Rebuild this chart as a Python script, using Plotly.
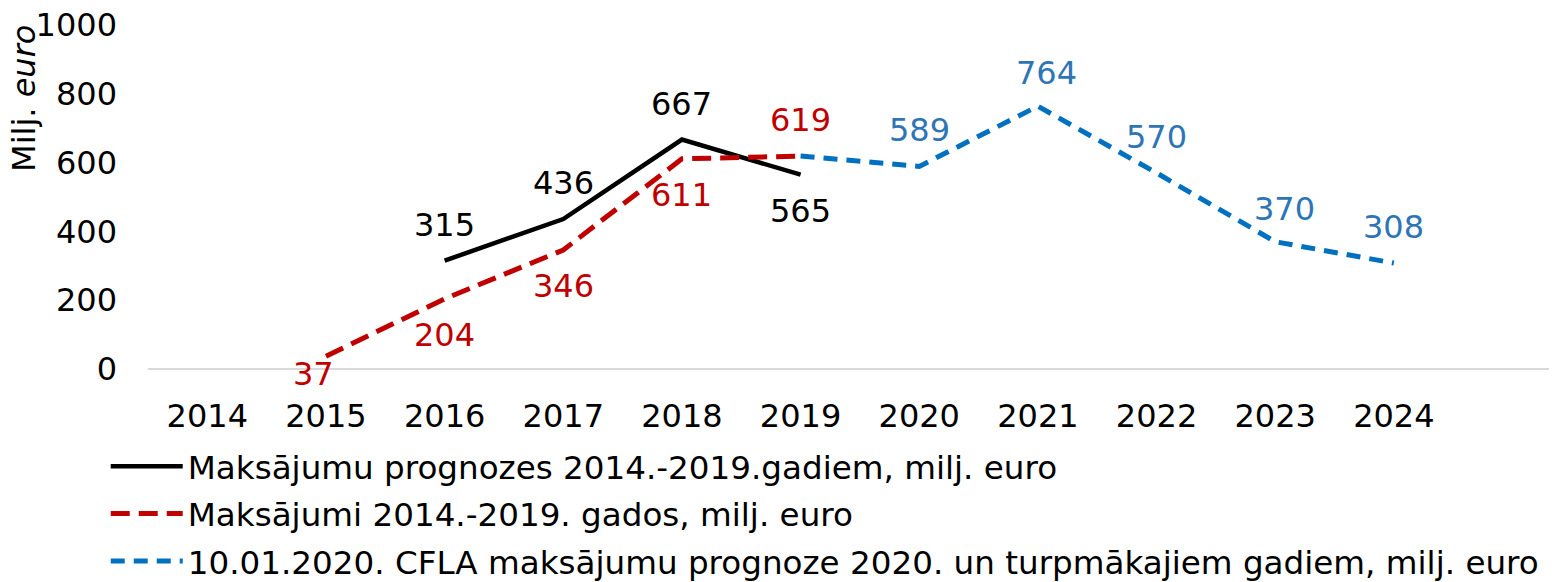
import plotly.graph_objects as go

years = list(range(2014, 2025))
black_x = [2016, 2017, 2018, 2019]
black_y = [315, 436, 667, 565]
red_x = [2015, 2016, 2017, 2018, 2019]
red_y = [37, 204, 346, 611, 619]
blue_x = [2019, 2020, 2021, 2022, 2023, 2024]
blue_y = [619, 589, 764, 570, 370, 308]

black_pos = ["above", "above", "above", "below"]
red_pos = ["below-left", "below", "below", "below", "above"]
blue_pos = [None, "above", "above-right", "above", "above-right", "above"]

names = [
    "Maksājumu prognozes 2014.-2019.gadiem, milj. euro",
    "Maksājumi 2014.-2019. gados, milj. euro",
    "10.01.2020. CFLA maksājumu prognoze 2020. un turpmākajiem gadiem, milj. euro",
]

FONT = "DejaVu Sans"
FS = 32
fig = go.Figure()
fig.add_trace(go.Scatter(x=black_x, y=black_y, mode="lines", name=names[0],
                         legendgroup="a",
                         line=dict(color="#000000", width=4.5)))
fig.add_trace(go.Scatter(x=red_x, y=red_y, mode="lines", name=names[1],
                         legendgroup="b",
                         line=dict(color="#C00000", width=5, dash="19px,9px")))
fig.add_trace(go.Scatter(x=blue_x, y=blue_y, mode="lines", name=names[2],
                         legendgroup="c",
                         line=dict(color="#0070C0", width=5, dash="14px,9px")))

shifts = {"above": (0, 36), "above-right": (9, 33), "below": (0, -36),
          "below-left": (-12, -18)}

def add_labels(xs, ys, pos, color):
    for x, y, p in zip(xs, ys, pos):
        if p is None:
            continue
        dx, dy = shifts[p]
        fig.add_annotation(x=x, y=y, text=str(y), showarrow=False,
                           xshift=dx, yshift=dy,
                           font=dict(family=FONT, size=FS, color=color))

add_labels(black_x, black_y, black_pos, "#000000")
add_labels(red_x, red_y, red_pos, "#C00000")
add_labels(blue_x, blue_y, blue_pos, "#2E75B6")

fig.add_annotation(xref="paper", yref="paper", x=-0.088, y=0.785,
                   xanchor="center", yanchor="middle",
                   text="Milj. <i>euro</i>", textangle=-90, showarrow=False,
                   font=dict(family=FONT, size=32, color="#000000"))

fig.update_layout(
    width=1549, height=574,
    margin=dict(l=140, r=0, t=17, b=213, autoexpand=False),
    paper_bgcolor="white", plot_bgcolor="white",
    font=dict(family=FONT, size=FS, color="#000000"),
    showlegend=True,
    legend=dict(x=-0.03, y=-0.202, xanchor="left", yanchor="top",
                font=dict(family=FONT, size=32.6, color="#000000"),
                tracegroupgap=2, itemwidth=72, bgcolor="rgba(0,0,0,0)"),
)
fig.update_xaxes(range=[2013.5, 2025.375], tickmode="array", tickvals=years,
                 ticktext=[str(y) for y in years], showgrid=False, zeroline=False,
                 showline=False, ticks="", ticklabelstandoff=25,
                 ticklabeloverflow="allow",
                 tickfont=dict(family=FONT, size=FS))
fig.update_yaxes(range=[0, 1000], tickvals=[0, 200, 400, 600, 800, 1000],
                 showgrid=False, zeroline=True, zerolinecolor="#D9D9D9",
                 zerolinewidth=2, showline=False, ticks="", ticklabelstandoff=30,
                 ticklabeloverflow="allow",
                 tickfont=dict(family=FONT, size=FS))

fig.write_html("out.html")
